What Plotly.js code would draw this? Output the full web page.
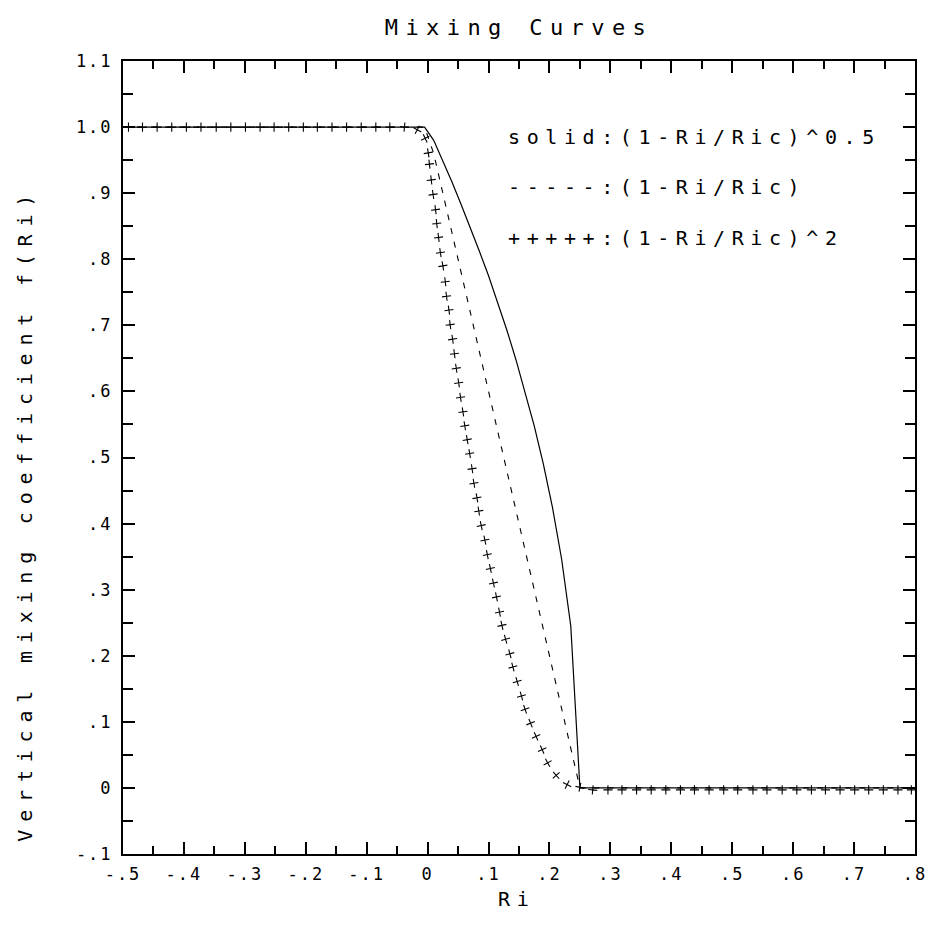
<!DOCTYPE html>
<html><head><meta charset="utf-8">
<script src="https://cdn.plot.ly/plotly-3.0.1.min.js"></script>
<style>
html,body{margin:0;padding:0;background:#fff;}
#chart{width:932px;height:937px;}
.xtick text, .ytick text { letter-spacing: 2px; }
text.gtitle { letter-spacing: 7.4px; }
.annotation-text { letter-spacing: 6.6px; }
</style></head><body><div id="chart"></div>
<script>
// Ri grid points where the curves bend
const riGrid = [-0.5, -0.005, 0.01, 0.025, 0.04, 0.055, 0.07, 0.085, 0.1, 0.115, 0.13, 0.145, 0.16, 0.175, 0.19, 0.205, 0.22, 0.235, 0.25, 0.8];
// solid: (1-Ri/Ric)^0.5
const fSqrt = [1, 1, 0.980, 0.949, 0.917, 0.883, 0.849, 0.812, 0.775, 0.735, 0.693, 0.648, 0.600, 0.548, 0.490, 0.424, 0.346, 0.245, 0, 0];
// dashed: (1-Ri/Ric)
const fLin = [1, 1, 0.96, 0.90, 0.84, 0.78, 0.72, 0.66, 0.60, 0.54, 0.48, 0.42, 0.36, 0.30, 0.24, 0.18, 0.12, 0.06, 0, 0];
// +++++: (1-Ri/Ric)^2, plus symbols
const plusRi = [-0.491, -0.468, -0.444, -0.420, -0.396, -0.372, -0.347, -0.323, -0.299, -0.275, -0.252, -0.228, -0.204, -0.181, -0.157, -0.133, -0.109, -0.085, -0.062, -0.038, -0.017,
  -0.004, 0.001, 0.003, 0.006, 0.009, 0.013, 0.015, 0.018, 0.021, 0.025, 0.029, 0.031, 0.035, 0.037, 0.041, 0.044, 0.047, 0.051, 0.054, 0.058, 0.061, 0.065, 0.069, 0.073, 0.076, 0.081, 0.084, 0.088, 0.094, 0.098, 0.103, 0.108, 0.113, 0.118, 0.122, 0.128, 0.135, 0.140, 0.147, 0.154, 0.160, 0.169, 0.178, 0.188, 0.197, 0.211, 0.229, 0.250,
  0.271, 0.296, 0.319, 0.343, 0.367, 0.391, 0.415, 0.438, 0.462, 0.486, 0.509, 0.534, 0.557, 0.582, 0.606, 0.630, 0.653, 0.677, 0.701, 0.724, 0.748, 0.772, 0.794];
const plusF = [1, 1, 1, 1, 1, 1, 1, 1, 1, 1, 1, 1, 1, 1, 1, 1, 1, 1, 1, 1, 0.996,
  0.983, 0.961, 0.944, 0.920, 0.898, 0.875, 0.854, 0.833, 0.810, 0.790, 0.766, 0.744, 0.723, 0.701, 0.679, 0.657, 0.635, 0.613, 0.591, 0.569, 0.548, 0.527, 0.506, 0.483, 0.461, 0.439, 0.419, 0.397, 0.375, 0.353, 0.332, 0.310, 0.289, 0.266, 0.246, 0.225, 0.203, 0.183, 0.161, 0.139, 0.119, 0.098, 0.078, 0.058, 0.038, 0.019, 0.005, 0.001,
  -0.003, -0.003, -0.003, -0.003, -0.003, -0.003, -0.003, -0.003, -0.003, -0.003, -0.003, -0.003, -0.003, -0.003, -0.003, -0.003, -0.003, -0.003, -0.003, -0.003, -0.003, -0.003, -0.003];
const xTickVals = [-0.5, -0.4, -0.3, -0.2, -0.1, 0, 0.1, 0.2, 0.3, 0.4, 0.5, 0.6, 0.7, 0.8];
const xTickText = ["-.5", "-.4", "-.3", "-.2", "-.1", "0", ".1", ".2", ".3", ".4", ".5", ".6", ".7", ".8"];
const yTickVals = [-0.1, 0, 0.1, 0.2, 0.3, 0.4, 0.5, 0.6, 0.7, 0.8, 0.9, 1.0, 1.1];
const yTickText = ["-.1", "0", ".1", ".2", ".3", ".4", ".5", ".6", ".7", ".8", ".9", "1.0", "1.1"];
const legendLines = ["solid:(1-Ri/Ric)^0.5", "-----:(1-Ri/Ric)", "+++++:(1-Ri/Ric)^2"];

const FONT = "DejaVu Sans Mono, monospace";
// rotate each plus along the curve direction (screen space), as the original dash-character pattern does
const sx = 792 / 1.3, sy = 793.3 / 1.2;
const plusAngles = plusRi.map((x, i) => {
  const a = Math.max(0, i - 1), b = Math.min(plusRi.length - 1, i + 1);
  const dx = (plusRi[b] - plusRi[a]) * sx, dy = -(plusF[b] - plusF[a]) * sy;
  return Math.atan2(dy, dx) * 180 / Math.PI;
});

const traces = [
  {x: riGrid, y: fSqrt, mode: 'lines', line: {color: '#000', width: 1.2}, hoverinfo: 'skip'},
  {x: riGrid, y: fLin, mode: 'lines', line: {color: '#000', width: 1.1, dash: '6px,8px'}, hoverinfo: 'skip'},
  {x: plusRi, y: plusF, mode: 'markers', cliponaxis: false,
   marker: {symbol: 'cross-thin', size: 6.5, angle: plusAngles, color: '#000', line: {color: '#000', width: 1.1}}, hoverinfo: 'skip'}
];

const axisCommon = {
  ticks: 'inside', ticklen: 12, tickwidth: 2, tickcolor: '#000',
  showline: true, linewidth: 2, linecolor: '#000', mirror: 'ticks',
  showgrid: false, zeroline: false, tickmode: 'array',
  tickfont: {family: FONT, size: 17, color: '#000'}
};

const ann = legendLines.map((t, i) => ({
  text: t, xref: 'paper', yref: 'paper', x: 0.484, y: [0.904, 0.8405, 0.7768][i],
  xanchor: 'left', yanchor: 'middle', showarrow: false,
  font: {family: FONT, size: 20, color: '#000'}
}));
ann.push({text: 'Ri', xref: 'paper', yref: 'paper', x: 0.497, y: -0.0567, xanchor: 'center', yanchor: 'middle',
  showarrow: false, font: {family: FONT, size: 20, color: '#000'}});
ann.push({text: '<span style="letter-spacing:7.8px">Vertical mixing coefficient f(Ri)</span>', xref: 'paper', yref: 'paper', x: -0.1237, y: 0.428,
  xanchor: 'center', yanchor: 'middle', textangle: -90, showarrow: false,
  font: {family: FONT, size: 20, color: '#000'}});

const layout = {
  width: 932, height: 937,
  margin: {l: 123, r: 17, t: 61, b: 83},
  paper_bgcolor: '#fff', plot_bgcolor: '#fff',
  showlegend: false,
  title: {text: 'Mixing Curves', font: {family: FONT, size: 22, color: '#000'},
    x: 0.5, xref: 'paper', xanchor: 'center', y: 1 - 27 / 937, yref: 'container', yanchor: 'middle'},
  xaxis: Object.assign({}, axisCommon, {range: [-0.5, 0.8], tickvals: xTickVals, ticktext: xTickText, ticklabelstandoff: 4,
    minor: {dtick: 0.05, tick0: 0, ticks: 'inside', ticklen: 8, tickwidth: 2, tickcolor: '#000'}}),
  yaxis: Object.assign({}, axisCommon, {range: [-0.1, 1.1], tickvals: yTickVals, ticktext: yTickText, ticklabelstandoff: 5,
    minor: {dtick: 0.05, tick0: 0, ticks: 'inside', ticklen: 10, tickwidth: 2, tickcolor: '#000'}}),
  annotations: ann
};

Plotly.newPlot('chart', traces, layout, {displayModeBar: false, staticPlot: true});
</script></body></html>
